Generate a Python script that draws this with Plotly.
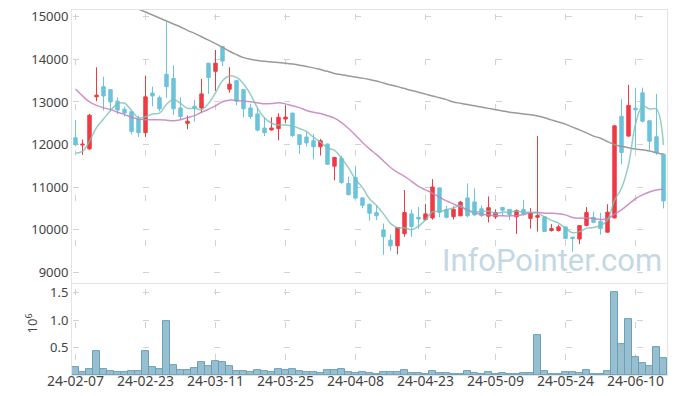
import plotly.graph_objects as go

dates = [
    "24-02-07", "24-02-08", "24-02-13", "24-02-14", "24-02-15", "24-02-16", "24-02-19", "24-02-20", "24-02-21", "24-02-22",
    "24-02-23", "24-02-26", "24-02-27", "24-02-28", "24-02-29", "24-03-04", "24-03-05", "24-03-06", "24-03-07", "24-03-08",
    "24-03-11", "24-03-12", "24-03-13", "24-03-14", "24-03-15", "24-03-18", "24-03-19", "24-03-20", "24-03-21", "24-03-22",
    "24-03-25", "24-03-26", "24-03-27", "24-03-28", "24-03-29", "24-04-01", "24-04-02", "24-04-03", "24-04-04", "24-04-05",
    "24-04-08", "24-04-09", "24-04-11", "24-04-12", "24-04-15", "24-04-16", "24-04-17", "24-04-18", "24-04-19", "24-04-22",
    "24-04-23", "24-04-24", "24-04-25", "24-04-26", "24-04-29", "24-04-30", "24-05-02", "24-05-03", "24-05-07", "24-05-08",
    "24-05-09", "24-05-10", "24-05-13", "24-05-14", "24-05-16", "24-05-17", "24-05-20", "24-05-21", "24-05-22", "24-05-23",
    "24-05-24", "24-05-27", "24-05-28", "24-05-29", "24-05-30", "24-05-31", "24-06-03", "24-06-04", "24-06-05", "24-06-07",
    "24-06-10", "24-06-11", "24-06-12", "24-06-13", "24-06-14",
]

opens = [
    12160, 11990, 11900, 13120, 13360, 13290, 13020, 12830, 12770, 12600,
    12280, 13210, 13100, 13650, 13550, 12860, 12500, 12900, 12860, 13910,
    13720, 14300, 13300, 13500, 13290, 12860, 12720, 12390, 12345, 12375,
    12600, 12740, 12230, 12180, 12090, 11950, 12015, 11495, 11680, 11090,
    11230, 10750, 10600, 10405, 10000, 9760, 9625, 9910, 10375, 10295,
    10240, 10280, 10985, 10480, 10310, 10330, 10750, 10655, 10495, 10320,
    10305, 10527, 10480, 10305, 10480, 10270, 10295, 10305, 9985, 9985,
    10070, 9830, 9785, 10105, 10295, 10200, 9945, 10280, 12665, 12200,
    12855, 13215, 12560, 12185, 11775,
]
highs = [
    12580, 12120, 12720, 13815, 13590, 13300, 13110, 12890, 12790, 12680,
    13620, 13360, 13150, 14880, 13860, 13110, 12680, 13050, 13540, 13920,
    14220, 14310, 13815, 13510, 13300, 12960, 12860, 12640, 12640, 12735,
    12920, 12745, 12240, 12290, 12250, 12135, 12020, 11705, 11735, 11250,
    11500, 10760, 10610, 10585, 10150, 9890, 10060, 10935, 10480, 10535,
    10610, 11190, 10990, 10560, 10550, 10680, 11090, 10975, 10575, 10785,
    10480, 10530, 10485, 10480, 10705, 10510, 12200, 10310, 10135, 10120,
    10075, 9830, 10105, 10535, 10425, 10400, 10600, 12445, 13065, 13400,
    13335, 13335, 12565, 13190, 11780,
]
lows = [
    11960, 11760, 11880, 13020, 12800, 12780, 12720, 12660, 12240, 12180,
    12180, 12900, 12780, 13100, 12690, 12580, 12360, 12540, 12740, 13190,
    13260, 13840, 13220, 12920, 12640, 12610, 12310, 12200, 12330, 12100,
    12500, 12180, 11780, 11960, 11655, 11745, 11530, 11160, 11080, 10810,
    10735, 10510, 10215, 10230, 9415, 9510, 9430, 9840, 9840, 10020,
    10215, 10240, 10295, 10265, 10245, 10320, 10295, 10335, 10300, 10175,
    10255, 10335, 10230, 9905, 10335, 10030, 9960, 9955, 9960, 9960,
    9780, 9490, 9665, 10080, 10160, 9890, 9940, 10275, 11540, 12185,
    11920, 12520, 11865, 11760, 10505,
]
closes = [
    12000, 12010, 12690, 13160, 13140, 13000, 12810, 12740, 12310, 12280,
    13120, 13140, 12840, 13360, 12840, 12660, 12550, 12860, 13190, 13575,
    13910, 13960, 13420, 13020, 12840, 12660, 12340, 12280, 12390, 12640,
    12645, 12215, 12000, 12040, 11950, 12090, 11540, 11700, 11110, 10825,
    10745, 10575, 10390, 10330, 9840, 9625, 10055, 10405, 10080, 10255,
    10375, 11005, 10415, 10295, 10480, 10650, 10330, 10350, 10335, 10520,
    10405, 10463, 10360, 10455, 10385, 10400, 10335, 9960, 10030, 10070,
    9800, 9800, 10100, 10405, 10175, 10030, 10415, 12440, 11815, 12920,
    12815, 12550, 12080, 11810, 10680,
]
volumes = [
    136000, 60000, 110000, 440000, 110000, 74000, 55000, 55000, 74000, 74000,
    430000, 136000, 110000, 980000, 185000, 93000, 93000, 130000, 240000, 167000,
    260000, 240000, 167000, 74000, 74000, 55000, 93000, 74000, 55000, 110000,
    93000, 110000, 74000, 55000, 55000, 37000, 93000, 80000, 99000, 56000,
    43000, 56000, 37000, 19000, 56000, 56000, 56000, 93000, 37000, 37000,
    19000, 74000, 37000, 37000, 19000, 19000, 74000, 37000, 19000, 56000,
    19000, 37000, 19000, 19000, 37000, 37000, 720000, 74000, 19000, 19000,
    56000, 56000, 37000, 93000, 19000, 19000, 74000, 1510000, 556000, 1020000,
    333000, 222000, 167000, 500000, 300000,
]
ma5 = [
    11800, 11840, 12080, 12400, 12600, 12800, 12960, 12970, 12800, 12628,
    12652, 12718, 12738, 12948, 13060, 12968, 12850, 12854, 12820, 12967,
    13217, 13499, 13611, 13577, 13430, 13180, 12856, 12628, 12502, 12462,
    12459, 12434, 12378, 12308, 12170, 12059, 11924, 11864, 11678, 11453,
    11184, 10991, 10729, 10573, 10376, 10152, 10048, 10051, 10001, 10084,
    10234, 10424, 10426, 10469, 10514, 10569, 10434, 10421, 10429, 10437,
    10388, 10415, 10417, 10441, 10414, 10413, 10387, 10307, 10222, 10159,
    10039, 9932, 9960, 10035, 10056, 10102, 10225, 10693, 10975, 11524,
    12481, 12908, 12836, 12835, 11987,
]
ma20 = [
    13304, 13143, 13000, 12920, 12862, 12824, 12759, 12704, 12646, 12598,
    12584, 12584, 12584, 12574, 12560, 12584, 12639, 12680, 12759, 12830,
    12909, 13007, 13043, 13036, 13021, 13004, 12981, 12958, 12962, 12980,
    12956, 12910, 12868, 12802, 12757, 12729, 12678, 12620, 12516, 12379,
    12221, 12051, 11900, 11765, 11615, 11464, 11349, 11256, 11140, 11021,
    10940, 10860, 10768, 10680, 10607, 10534, 10473, 10406, 10367, 10352,
    10335, 10329, 10328, 10334, 10361, 10400, 10414, 10392, 10389, 10380,
    10351, 10291, 10275, 10281, 10265, 10245, 10260, 10370, 10470, 10600,
    10730, 10820, 10890, 10935, 10950,
]
ma120 = [
    15830, 15760, 15690, 15610, 15540, 15470, 15400, 15330, 15250, 15180,
    15110, 15040, 14970, 14900, 14830, 14760, 14680, 14610, 14530, 14450,
    14370, 14280, 14190, 14110, 14040, 14000, 13975, 13955, 13940, 13925,
    13910, 13890, 13863, 13835, 13800, 13760, 13720, 13670, 13640, 13610,
    13585, 13560, 13530, 13490, 13445, 13400, 13360, 13315, 13270, 13230,
    13185, 13140, 13100, 13055, 13000, 12970, 12940, 12910, 12880, 12850,
    12820, 12790, 12760, 12740, 12720, 12700, 12670, 12630, 12580, 12530,
    12480, 12410, 12345, 12275, 12200, 12150, 12070, 12000, 11960, 11925,
    11895, 11880, 11850, 11810, 11775,
]
tick_labels = ["24-02-07", "24-02-23", "24-03-11", "24-03-25", "24-04-08",
               "24-04-23", "24-05-09", "24-05-24", "24-06-10"]
price_ticks = [9000, 10000, 11000, 12000, 13000, 14000, 15000]
vol_ticks = [500000, 1000000, 1500000]
vol_tick_text = ["0.5", "1.0", "1.5"]

RED = "#ee3b43"
BLUE = "#6cc3da"
GRID = "#d2d2d2"
FRAME = "#e4e4e4"
FONT = "Noto Sans"

fig = go.Figure()
fig.add_trace(go.Candlestick(
    x=dates, open=opens, high=highs, low=lows, close=closes,
    increasing=dict(line=dict(color=RED, width=1), fillcolor=RED),
    decreasing=dict(line=dict(color=BLUE, width=1), fillcolor=BLUE),
    whiskerwidth=0, xaxis="x", yaxis="y", showlegend=False,
))
fig.add_trace(go.Scatter(x=dates, y=ma120, mode="lines", line=dict(color="#9a9a9a", width=1.5, shape="spline"),
                         xaxis="x", yaxis="y", showlegend=False))
fig.add_trace(go.Scatter(x=dates, y=ma20, mode="lines", line=dict(color="rgba(196,128,192,0.85)", width=1.5, shape="spline"),
                         xaxis="x", yaxis="y", showlegend=False))
fig.add_trace(go.Scatter(x=dates, y=ma5, mode="lines", line=dict(color="rgba(120,192,182,0.8)", width=1.5, shape="spline"),
                         xaxis="x", yaxis="y", showlegend=False))
fig.add_trace(go.Bar(x=dates, y=volumes, marker=dict(color="#98bfd0", line=dict(color="#6a9fb9", width=1)),
                     xaxis="x2", yaxis="y2", showlegend=False))

# the page body adds an 8px offset; size the figure so the plot lands where the reference has it
fig.update_layout(
    width=669, height=388, autosize=False,
    margin=dict(l=64, r=10, t=2, b=21),
    paper_bgcolor="white", plot_bgcolor="white",
    bargap=0,
    font=dict(family=FONT, size=13, color="#444444"),
    xaxis=dict(type="category", domain=[0, 1], anchor="y", range=[-0.5, 84.5], automargin=False,
               tickvals=tick_labels, showticklabels=False, ticks="",
               showgrid=True, gridcolor=GRID, griddash="0px,3.6px,6px,35.73px",
               showline=True, mirror=True, linecolor=FRAME, linewidth=1,
               rangeslider=dict(visible=False), fixedrange=True),
    xaxis2=dict(type="category", domain=[0, 1], anchor="y2", matches="x", range=[-0.5, 84.5], automargin=False,
                tickvals=tick_labels, ticktext=tick_labels, ticks="",
                tickfont=dict(size=14, color="#444444"), ticklabelstandoff=-7,
                ticklabeloverflow="allow",
                showgrid=True, gridcolor=GRID, griddash="0px,5.3px,6px,20.9px",
                showline=True, mirror=True, linecolor=FRAME, linewidth=1),
    yaxis=dict(domain=[0.252, 1], anchor="x", range=[8753, 15158], automargin=False,
               tickvals=price_ticks, ticktext=[str(v) for v in price_ticks], ticks="",
               tickfont=dict(size=13, color="#444444"), ticklabeloverflow="allow",
               showgrid=True, gridcolor=GRID, griddash="0px,0.5px,6px,64px", zeroline=False,
               showline=True, mirror=True, linecolor=FRAME, linewidth=1),
    yaxis2=dict(domain=[0, 0.249], anchor="x2", range=[0, 1655000], automargin=False,
                tickvals=vol_ticks, ticktext=vol_tick_text, ticks="",
                tickfont=dict(size=13, color="#444444"), ticklabeloverflow="allow",
                showgrid=True, gridcolor=GRID, griddash="0px,0.5px,6px,64px", zeroline=False,
                showline=True, mirror=True, linecolor=FRAME, linewidth=1),
    annotations=[
        dict(text="10<sup>6</sup>", xref="paper", yref="paper", x=-0.068, y=0.14,
             textangle=-90, showarrow=False, font=dict(size=13, color="#444444"),
             xanchor="center", yanchor="middle"),
        dict(text="InfoPointer.com", xref="paper", yref="paper", x=0.806, y=0.314,
             showarrow=False, font=dict(family="Roboto", size=31, color="#c4d8e4"),
             xanchor="center", yanchor="middle"),
    ],
)

fig.write_html("out.html")
